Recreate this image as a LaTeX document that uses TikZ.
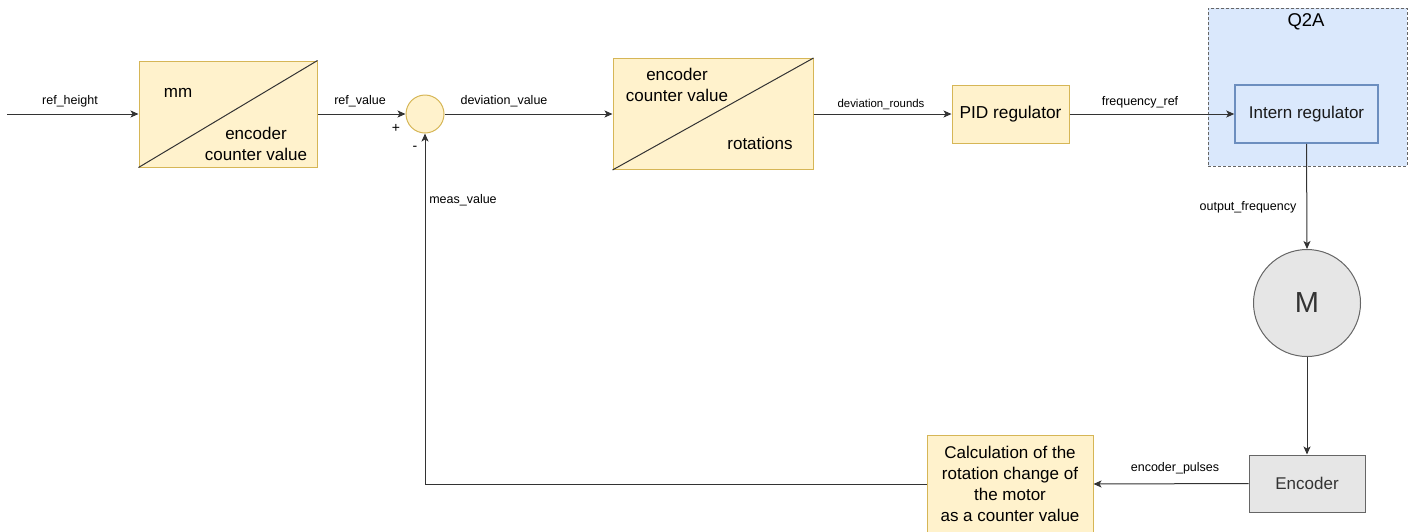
\documentclass[tikz,border=0pt]{standalone}
\usepackage{fontspec}
\setmainfont{Liberation Sans}
\usetikzlibrary{arrows.meta}
\definecolor{yfill}{HTML}{FFF2CC}
\definecolor{ydraw}{HTML}{D6B656}
\definecolor{bfill}{HTML}{DAE8FC}
\definecolor{bdraw}{HTML}{6C8EBF}
\definecolor{gfill}{HTML}{E6E6E6}
\definecolor{gdraw}{HTML}{666666}
\definecolor{ln}{HTML}{333333}
\tikzset{
  ybox/.style={draw=ydraw, fill=yfill, line width=1pt, inner sep=0pt},
  gbox/.style={draw=gdraw, fill=gfill, line width=1pt, inner sep=0pt, text=ln},
  lbl/.style={font=\fontsize{12.5}{15}\selectfont, inner sep=1pt},
  slbl/.style={font=\fontsize{11.4}{13}\selectfont, inner sep=1pt},
  btxt/.style={font=\fontsize{17}{21}\selectfont, inner sep=0pt},
  arr/.style={draw=ln, line width=1pt, -{Stealth[length=8pt,width=7pt,inset=2pt]}},
}
\begin{document}
\begin{tikzpicture}[x=1pt,y=-1pt]
\useasboundingbox (0,0) rectangle (1410,531);
% Q2A container
\node[draw=gdraw, dash pattern=on 3pt off 2pt, fill=bfill, line width=1pt, minimum width=199pt, minimum height=158pt, inner sep=0pt] (q2a) at (1307.5,87) {};
\node[font=\fontsize{18.5}{22}\selectfont] (q2alabel) at (1306,22) {Q2A};
% blocks
\node[ybox, minimum width=178pt, minimum height=106pt] (b1) at (228,114) {};
\draw[ln, line width=1pt] (b1.south west) -- (b1.north east);
\node[btxt] (b1a) at (178,93) {mm};
\node[btxt, align=center] (b1b) at (256,144) {encoder\\counter value};
\node[ybox, circle, minimum size=38pt] (sum) at (425,114) {};
\node[font=\fontsize{14}{16}\selectfont, inner sep=0pt] (plus) at (396,128) {+};
\node[font=\fontsize{14}{16}\selectfont, inner sep=0pt] (minus) at (415,148) {-};
\node[ybox, minimum width=200pt, minimum height=111pt] (b2) at (713,114) {};
\draw[ln, line width=1pt] (b2.south west) -- (b2.north east);
\node[btxt, align=center] (b2a) at (677,85) {encoder\\counter value};
\node[btxt] (b2b) at (760,143) {rotations};
\node[ybox, minimum width=117pt, minimum height=58pt, font=\fontsize{17.3}{20}\selectfont] (pid) at (1010.5,114) {PID regulator};
\node[draw=bdraw, fill=bfill, line width=1.5pt, minimum width=143pt, minimum height=58pt, inner sep=0pt, font=\fontsize{17}{20}\selectfont, text=black!90] (intern) at (1306.5,114) {Intern regulator};
\node[gbox, circle, minimum size=107pt, font=\fontsize{29}{33}\selectfont] (motor) at (1307,303) {M};
\node[gbox, minimum width=116pt, minimum height=57pt, font=\fontsize{17}{20}\selectfont] (enc) at (1307,483.5) {Encoder};
\node[ybox, minimum width=166pt, minimum height=97pt, align=center, font=\fontsize{17}{21}\selectfont] (calc) at (1010,484) {Calculation of the\\rotation change of\\the motor\\as a counter value};
% connectors
\coordinate (in) at (7,114);
\draw[arr] (in) -- (b1.west);
\draw[arr] (b1.east) -- (sum.west);
\draw[arr] (sum.east) -- (b2.west);
\draw[arr] (b2.east) -- (pid.west);
\draw[arr] (pid.east) -- (intern.west);
\draw[arr] (intern.south) -- (motor.north);
\draw[arr] (motor.south) -- (enc.north);
\draw[arr] (enc.west) -- (calc.east);
\draw[arr] (calc.west) -| (sum.south);
% labels
\node[lbl] (l1) at (70,101) {ref\_height};
\node[lbl] (l2) at (360,101) {ref\_value};
\node[lbl] (l3) at (504,101) {deviation\_value};
\node[slbl] (l4) at (881,104) {deviation\_rounds};
\node[lbl] (l5) at (1140,102) {frequency\_ref};
\node[lbl] (l6) at (1248,207) {output\_frequency};
\node[lbl] (l7) at (1175,468) {encoder\_pulses};
\node[lbl] (l8) at (463,200) {meas\_value};
\end{tikzpicture}
\end{document}
